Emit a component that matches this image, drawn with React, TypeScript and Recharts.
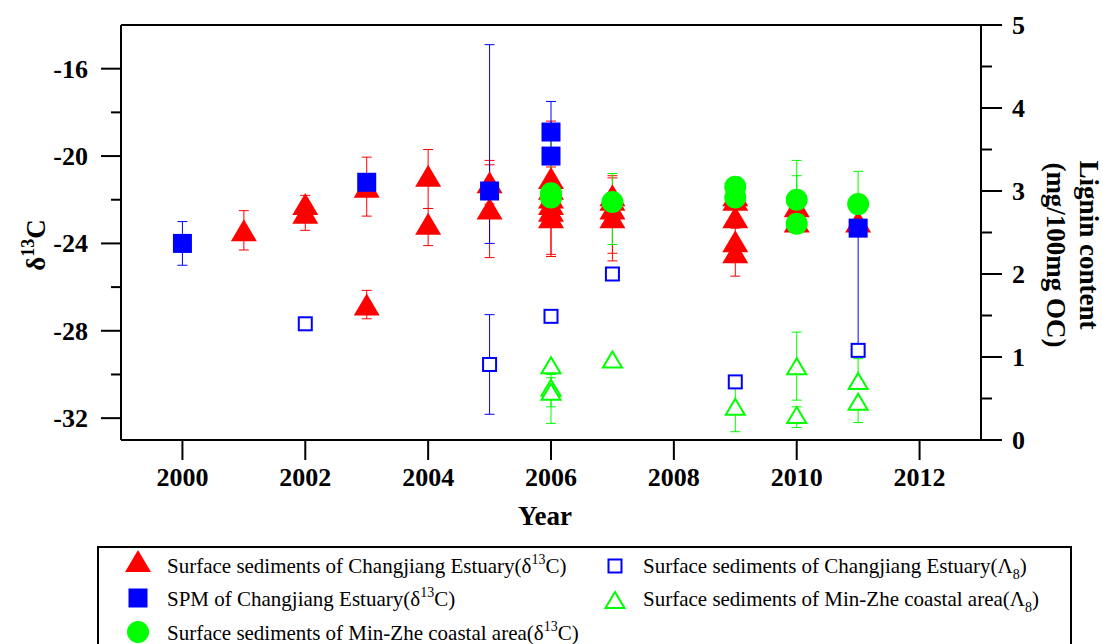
import { ScatterChart, Scatter, XAxis, YAxis, ErrorBar, Label } from "recharts";

type Err = number | [number, number] | null;

// Surface sediments of Changjiang Estuary, δ13C
const ceSedYears = [2001, 2002, 2002, 2003, 2003, 2004, 2004, 2005, 2005, 2006, 2006, 2006, 2006, 2006, 2006, 2007, 2007, 2007, 2007, 2009, 2009, 2009, 2009, 2009, 2010, 2010, 2011];
const ceSedD13C = [-23.4, -22.2, -22.6, -21.4, -26.8, -20.9, -23.1, -21.2, -22.4, -21.0, -21.5, -21.9, -22.2, -22.5, -22.8, -21.8, -22.0, -22.4, -22.8, -21.8, -22.0, -22.8, -23.9, -24.4, -22.3, -23.0, -23.0];
const ceSedErr: Err[] = [0.9, null, 0.8, 1.35, 0.65, [1.5, 1.2], [1.0, 0.7], 1.0, [2.25, 2.0], null, 3.1, null, null, 2.0, null, null, [2.45, 1.1], null, [2.0, 1.8], null, null, null, null, 1.1, null, null, null];

// SPM of Changjiang Estuary, δ13C
const spmYears = [2000, 2003, 2005, 2006, 2006, 2011];
const spmD13C = [-24.0, -21.2, -21.6, -18.9, -20.0, -23.3];
const spmErr: Err[] = [1.0, null, [2.4, 6.7], 1.4, null, 0.25];

// Surface sediments of Min-Zhe coastal area, δ13C
const mzSedYears = [2006, 2006, 2007, 2009, 2009, 2010, 2010, 2011];
const mzSedD13C = [-21.7, -21.9, -22.1, -21.4, -21.9, -22.0, -23.1, -22.2];
const mzSedErr: Err[] = [[0, 2.5], [1.3, 1.0], [1.95, 1.3], null, null, [0, 1.8], [0, 2.2], [1.3, 1.5]];

// Lignin content (Λ8), Changjiang Estuary
const ceLigYears = [2002, 2005, 2006, 2007, 2009, 2011];
const ceLambda8 = [1.4, 0.91, 1.49, 2.0, 0.7, 1.08];
const ceLigErr: Err[] = [null, 0.6, null, null, null, [0, 1.54]];

// Lignin content (Λ8), Min-Zhe coastal area
const mzLigYears = [2006, 2006, 2006, 2007, 2009, 2010, 2010, 2011, 2011];
const mzLambda8 = [0.9, 0.63, 0.58, 0.97, 0.4, 0.89, 0.3, 0.71, 0.46];
const mzLigErr: Err[] = [null, [0.23, 0.16], [0.38, 0.17], null, 0.3, 0.41, [0.15, 0.1], [0, 0.27], [0.25, 0]];

const yearTicks = [2000, 2002, 2004, 2006, 2008, 2010, 2012];
const d13cTicks = [-32, -30, -28, -26, -24, -22, -20, -18, -16];
const ligninTicks = [0, 0.5, 1, 1.5, 2, 2.5, 3, 3.5, 4, 4.5, 5];

const RED = "#ff0000";
const BLUE = "#0000ff";
const GREEN = "#00ff00";
const FONT = "'Liberation Serif', 'Times New Roman', serif";

const toPoints = (xs: number[], ys: number[], es: Err[]) =>
  xs.map((x, i) => ({ x, y: ys[i], err: es[i] ?? undefined }));

const ceSedData = toPoints(ceSedYears, ceSedD13C, ceSedErr);
const spmData = toPoints(spmYears, spmD13C, spmErr);
const mzSedData = toPoints(mzSedYears, mzSedD13C, mzSedErr);
const ceLigData = toPoints(ceLigYears, ceLambda8, ceLigErr);
const mzLigData = toPoints(mzLigYears, mzLambda8, mzLigErr);

const tickText = { fontFamily: FONT, fontWeight: 700, fontSize: 26, fill: "#000" };

// symbol shapes
const FilledTriangle = ({ cx, cy, color = RED }: any) => (
  <polygon points={`${cx},${cy - 11} ${cx + 13},${cy + 11} ${cx - 13},${cy + 11}`} fill={color} />
);
const OpenTriangle = ({ cx, cy, color = GREEN }: any) => (
  <polygon
    points={`${cx},${cy - 8} ${cx + 9.5},${cy + 8} ${cx - 9.5},${cy + 8}`}
    fill="#fff"
    stroke={color}
    strokeWidth={2}
  />
);
const FilledSquare = ({ cx, cy, color = BLUE }: any) => (
  <rect x={cx - 9.5} y={cy - 9.5} width={19} height={19} fill={color} />
);
const OpenSquare = ({ cx, cy, color = BLUE }: any) => (
  <rect x={cx - 6.5} y={cy - 6.5} width={13} height={13} fill="#fff" stroke={color} strokeWidth={2} />
);
const FilledCircle = ({ cx, cy, color = GREEN }: any) => <circle cx={cx} cy={cy} r={11} fill={color} />;

// axis ticks
const BottomTick = ({ x, y, payload }: any) => (
  <g>
    <line x1={x} x2={x} y1={y} y2={y + 20} stroke="#000" strokeWidth={2} />
    <text x={x} y={y + 46} textAnchor="middle" {...tickText}>
      {payload.value}
    </text>
  </g>
);
const TopTick = ({ x, y }: any) => <line x1={x} x2={x} y1={y} y2={y + 4} stroke="#000" strokeWidth={2} />;

const LeftTick = ({ x, y, payload }: any) => {
  const major = payload.value % 4 === 0;
  return (
    <g>
      <line x1={x} x2={x - (major ? 20 : 10)} y1={y} y2={y} stroke="#000" strokeWidth={2} />
      {major && (
        <text x={x - 33} y={y + 9} textAnchor="end" {...tickText}>
          {payload.value}
        </text>
      )}
    </g>
  );
};
const RightTick = ({ x, y, payload }: any) => {
  const major = Number.isInteger(payload.value);
  return (
    <g>
      <line x1={x} x2={x + (major ? 21 : 11)} y1={y} y2={y} stroke="#000" strokeWidth={2} />
      {major && (
        <text x={x + 31} y={y + 9} textAnchor="start" {...tickText}>
          {payload.value}
        </text>
      )}
    </g>
  );
};

const titleText = { fontFamily: FONT, fontWeight: 700, fontSize: 27, fill: "#000" };

const LegendPanel = () => {
  const lx = 138;
  const rx = 615;
  const txt = { fontFamily: FONT, fontSize: 21, fill: "#000" };
  return (
    <svg width={1103} height={644} style={{ position: "absolute", left: 0, top: 0, pointerEvents: "none" }}>
      <rect x={98} y={547} width={973} height={130} fill="none" stroke="#000" strokeWidth={2} />
      <FilledTriangle cx={lx} cy={561} />
      <text x={167} y={573} {...txt}>
        Surface sediments of Changjiang Estuary(δ<tspan dy={-9} fontSize={14}>13</tspan>
        <tspan dy={9}>C)</tspan>
      </text>
      <FilledSquare cx={lx} cy={598} />
      <text x={167} y={606} {...txt}>
        SPM of Changjiang Estuary(δ<tspan dy={-9} fontSize={14}>13</tspan>
        <tspan dy={9}>C)</tspan>
      </text>
      <FilledCircle cx={lx} cy={632} />
      <text x={167} y={640} {...txt}>
        Surface sediments of Min-Zhe coastal area(δ<tspan dy={-9} fontSize={14}>13</tspan>
        <tspan dy={9}>C)</tspan>
      </text>
      <OpenSquare cx={rx} cy={566} />
      <text x={643} y={573} {...txt}>
        Surface sediments of Changjiang Estuary(Λ<tspan dy={6} fontSize={14}>8</tspan>
        <tspan dy={-6}>)</tspan>
      </text>
      <OpenTriangle cx={rx} cy={600} />
      <text x={643} y={606} {...txt}>
        Surface sediments of Min-Zhe coastal area(Λ<tspan dy={6} fontSize={14}>8</tspan>
        <tspan dy={-6}>)</tspan>
      </text>
    </svg>
  );
};

export default function App() {
  return (
    <div style={{ position: "relative", width: 1103, height: 644, overflow: "hidden", background: "#fff" }}>
      <style>{"body{margin:0}"}</style>
      <ScatterChart width={1103} height={644} margin={{ top: 0, right: 0, bottom: 0, left: 0 }}>
        <XAxis
          xAxisId="bottom"
          dataKey="x"
          type="number"
          orientation="bottom"
          domain={[1999, 2013]}
          allowDataOverflow
          ticks={yearTicks}
          height={204}
          tickSize={0}
          tickMargin={0}
          tickLine={false}
          axisLine={{ stroke: "#000", strokeWidth: 2 }}
          tick={<BottomTick />}
        >
          <Label
            content={() => (
              <text x={545} y={525} textAnchor="middle" {...titleText}>
                Year
              </text>
            )}
          />
        </XAxis>
        <XAxis
          xAxisId="top"
          type="number"
          orientation="top"
          domain={[1999, 2013]}
          allowDataOverflow
          ticks={yearTicks}
          height={25}
          tickSize={0}
          tickMargin={0}
          tickLine={false}
          axisLine={{ stroke: "#000", strokeWidth: 2 }}
          tick={<TopTick />}
        />
        <YAxis
          yAxisId="d13c"
          dataKey="y"
          type="number"
          orientation="left"
          domain={[-33, -14]}
          allowDataOverflow
          ticks={d13cTicks}
          width={121}
          tickSize={0}
          tickMargin={0}
          tickLine={false}
          axisLine={{ stroke: "#000", strokeWidth: 2 }}
          tick={<LeftTick />}
        >
          <Label
            content={() => (
              <text x={45} y={245} textAnchor="middle" transform="rotate(-90, 45, 245)" {...titleText}>
                δ<tspan dy={-11} fontSize={18}>13</tspan>
                <tspan dy={11}>C</tspan>
              </text>
            )}
          />
        </YAxis>
        <YAxis
          yAxisId="lignin"
          dataKey="y"
          type="number"
          orientation="right"
          domain={[0, 5]}
          allowDataOverflow
          ticks={ligninTicks}
          width={122}
          tickSize={0}
          tickMargin={0}
          tickLine={false}
          axisLine={{ stroke: "#000", strokeWidth: 2 }}
          tick={<RightTick />}
        >
          <Label
            content={() => (
              <g>
                <text x={1080} y={245} textAnchor="middle" transform="rotate(90, 1080, 245)" {...titleText}>
                  Lignin content
                </text>
                <text x={1047} y={255} textAnchor="middle" transform="rotate(90, 1047, 255)" {...titleText}>
                  (mg/100mg OC)
                </text>
              </g>
            )}
          />
        </YAxis>

        <Scatter
          name="ceSed"
          data={ceSedData}
          xAxisId="bottom"
          yAxisId="d13c"
          isAnimationActive={false}
          shape={(p: any) => <FilledTriangle cx={p.cx} cy={p.cy} />}
        >
          <ErrorBar dataKey="err" direction="y" width={5} stroke={RED} strokeWidth={1} />
        </Scatter>
        <Scatter
          name="spm"
          data={spmData}
          xAxisId="bottom"
          yAxisId="d13c"
          isAnimationActive={false}
          shape={(p: any) => <FilledSquare cx={p.cx} cy={p.cy} />}
        >
          <ErrorBar dataKey="err" direction="y" width={5} stroke={BLUE} strokeWidth={1} />
        </Scatter>
        <Scatter
          name="mzSed"
          data={mzSedData}
          xAxisId="bottom"
          yAxisId="d13c"
          isAnimationActive={false}
          shape={(p: any) => <FilledCircle cx={p.cx} cy={p.cy} />}
        >
          <ErrorBar dataKey="err" direction="y" width={5} stroke={GREEN} strokeWidth={1} />
        </Scatter>
        <Scatter
          name="ceLig"
          data={ceLigData}
          xAxisId="bottom"
          yAxisId="lignin"
          isAnimationActive={false}
          shape={(p: any) => <OpenSquare cx={p.cx} cy={p.cy} />}
        >
          <ErrorBar dataKey="err" direction="y" width={5} stroke={BLUE} strokeWidth={1} />
        </Scatter>
        <Scatter
          name="mzLig"
          data={mzLigData}
          xAxisId="bottom"
          yAxisId="lignin"
          isAnimationActive={false}
          shape={(p: any) => <OpenTriangle cx={p.cx} cy={p.cy} />}
        >
          <ErrorBar dataKey="err" direction="y" width={5} stroke={GREEN} strokeWidth={1} />
        </Scatter>
      </ScatterChart>
      <LegendPanel />
    </div>
  );
}
